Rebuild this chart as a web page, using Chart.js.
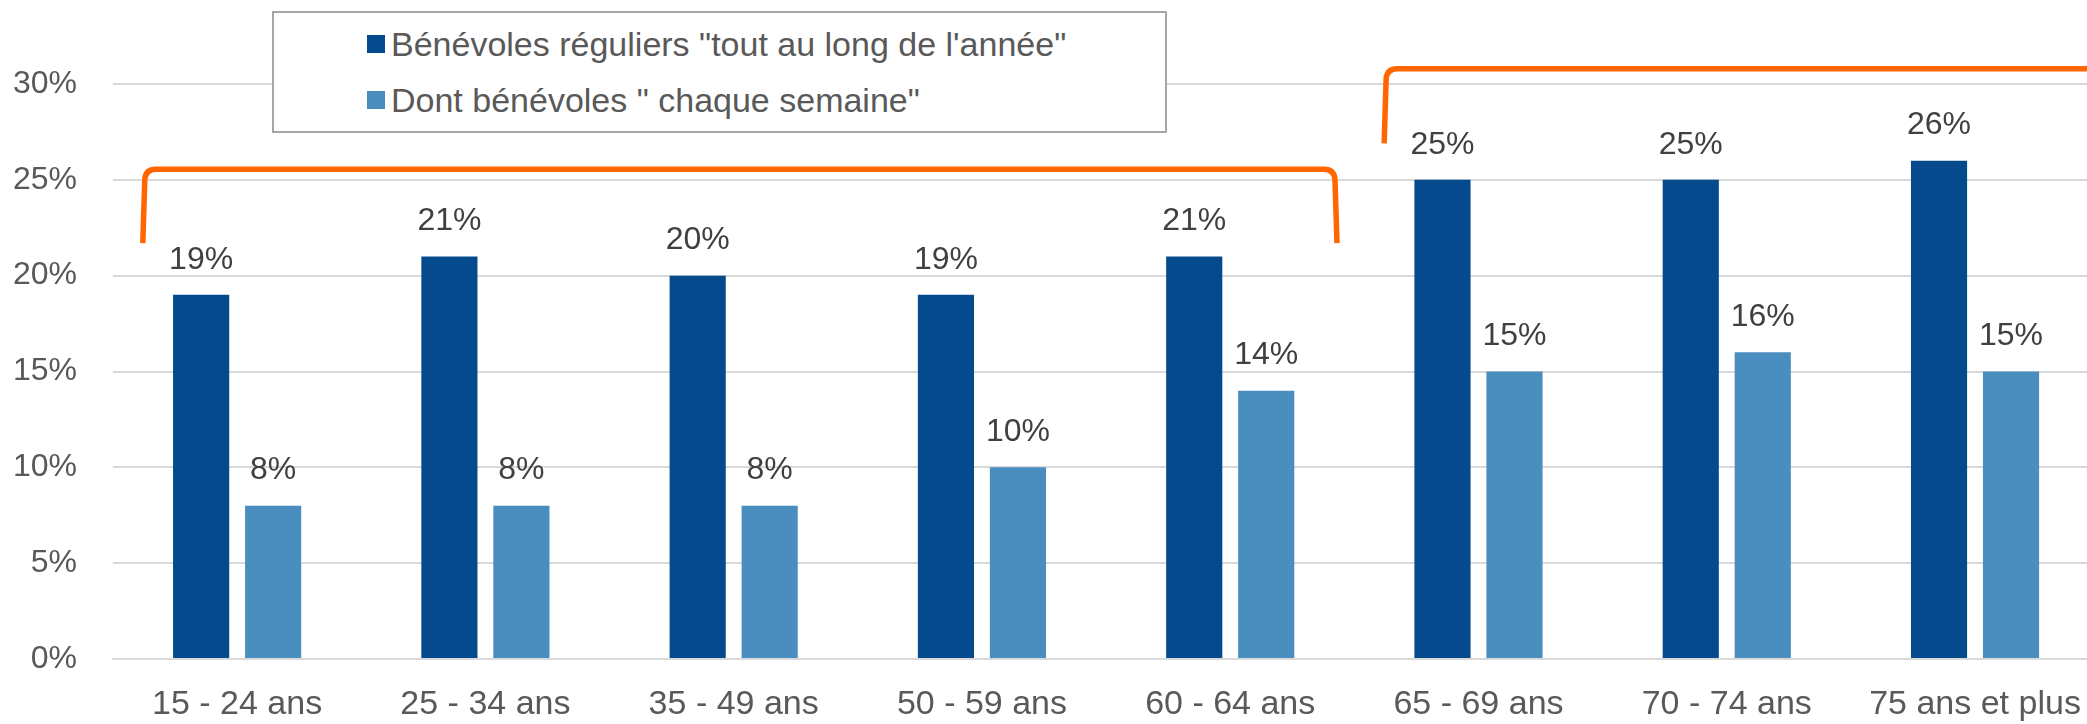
<!DOCTYPE html>
<html lang="fr">
<head>
  <meta charset="UTF-8" />
  <title>Bénévoles réguliers par âge</title>
  <script src="https://cdn.jsdelivr.net/npm/chart.js@4"></script>
  <style>
    html, body { margin:0; padding:0; background:#fff; overflow:hidden; }
    #wrap { position:relative; width:2106px; height:724px; }
    #legend {
      position:absolute; left:272px; top:11px; width:895px; height:122px;
      background:#fff; border:2px solid #a6a6a6; box-sizing:border-box;
      font-family:"Liberation Sans", Arial, sans-serif; font-size:34px; line-height:40px; color:#595959;
    }
    .item { position:absolute; left:93px; display:flex; align-items:center; white-space:nowrap; }
    .sw { width:18px; height:18px; margin-right:6px; }
  </style>
</head>
<body>
  <div id="wrap">
    <canvas id="chart" width="2106" height="724"></canvas>
    <div id="legend"></div>
  </div>

  <script>
    const categories = ['15 - 24 ans','25 - 34 ans','35 - 49 ans','50 - 59 ans','60 - 64 ans','65 - 69 ans','70 - 74 ans','75 ans et plus'];
    const seriesNames = ['Bénévoles réguliers "tout au long de l\'année"', 'Dont bénévoles " chaque semaine"'];
    const regular = [19, 21, 20, 19, 21, 25, 25, 26];
    const weekly  = [8, 8, 8, 10, 14, 15, 16, 15];
    const colors  = ['#064a8e', '#4a8ec0'];
    const yTicks  = [0, 5, 10, 15, 20, 25, 30];
    // orange brackets: category range (fractional index) and value range
    const brackets = [
      {from:-0.38, to:4.43, top:25.55, bottom:21.7},
      {from:4.62, to:7.7, top:30.8, bottom:26.9}
    ];

    const FONT = '"Liberation Sans", Arial, sans-serif';

    // legend
    const legend = document.getElementById('legend');
    seriesNames.forEach((name, i) => {
      const d = document.createElement('div');
      d.className = 'item';
      d.style.top = (i === 0 ? 11 : 67) + 'px';
      d.innerHTML = `<span class="sw" style="background:${colors[i]}"></span><span>${name.replace(/"/g,'&quot;')}</span>`;
      legend.appendChild(d);
    });

    const valueLabels = {
      id:'valueLabels',
      afterDatasetsDraw(chart){
        const ctx = chart.ctx;
        ctx.save();
        ctx.font = '32px ' + FONT;
        ctx.fillStyle = '#404040';
        ctx.textAlign = 'center';
        ctx.textBaseline = 'middle';
        chart.data.datasets.forEach((ds, di) => {
          chart.getDatasetMeta(di).data.forEach((bar, i) => {
            ctx.fillText(ds.data[i] + '%', bar.x, bar.y - 35);
          });
        });
        ctx.restore();
      }
    };

    const bracketPlugin = {
      id:'brackets',
      afterDraw(chart){
        const ctx = chart.ctx, xs = chart.scales.x, ys = chart.scales.y;
        ctx.save();
        ctx.strokeStyle = '#ff6600';
        ctx.lineWidth = 5.5;
        ctx.lineJoin = 'round';
        brackets.forEach(b => {
          const x1 = xs.getPixelForValue(b.from), x2 = xs.getPixelForValue(b.to);
          const yt = ys.getPixelForValue(b.top), yb = ys.getPixelForValue(b.bottom);
          const r = 10;
          ctx.beginPath();
          ctx.moveTo(x1, yb);
          ctx.lineTo(x1 + 2, yt + r);
          ctx.quadraticCurveTo(x1 + 3, yt, x1 + 3 + r, yt);
          ctx.lineTo(x2 - 3 - r, yt);
          ctx.quadraticCurveTo(x2 - 3, yt, x2 - 2, yt + r);
          ctx.lineTo(x2, yb);
          ctx.stroke();
        });
        ctx.restore();
      }
    };

    new Chart(document.getElementById('chart'), {
      type:'bar',
      data:{
        labels:categories,
        datasets:[
          {label:seriesNames[0], data:regular, backgroundColor:colors[0]},
          {label:seriesNames[1], data:weekly,  backgroundColor:colors[1]}
        ]
      },
      options:{
        responsive:false,
        animation:false,
        events:[],
        layout:{padding:{top:84, right:2, left:0, bottom:0}},
        datasets:{bar:{categoryPercentage:0.58, barPercentage:0.78}},
        plugins:{legend:{display:false}, tooltip:{enabled:false}},
        scales:{
          x:{
            grid:{display:false, drawTicks:false},
            border:{display:true, color:'#d9d9d9', width:2},
            ticks:{color:'#595959', font:{family:FONT, size:34}, padding:25, maxRotation:0, autoSkip:false},
            afterFit(s){ s.height = 65; }
          },
          y:{
            min:0, max:30,
            afterBuildTicks(s){ s.ticks = yTicks.map(v => ({value:v})); },
            grid:{color:'#d9d9d9', lineWidth:2, drawTicks:false},
            border:{display:false},
            ticks:{color:'#595959', font:{family:FONT, size:32}, padding:36, callback:v => v + '%'},
            afterFit(s){ s.width = 113; }
          }
        }
      },
      plugins:[valueLabels, bracketPlugin]
    });
  </script>
</body>
</html>
